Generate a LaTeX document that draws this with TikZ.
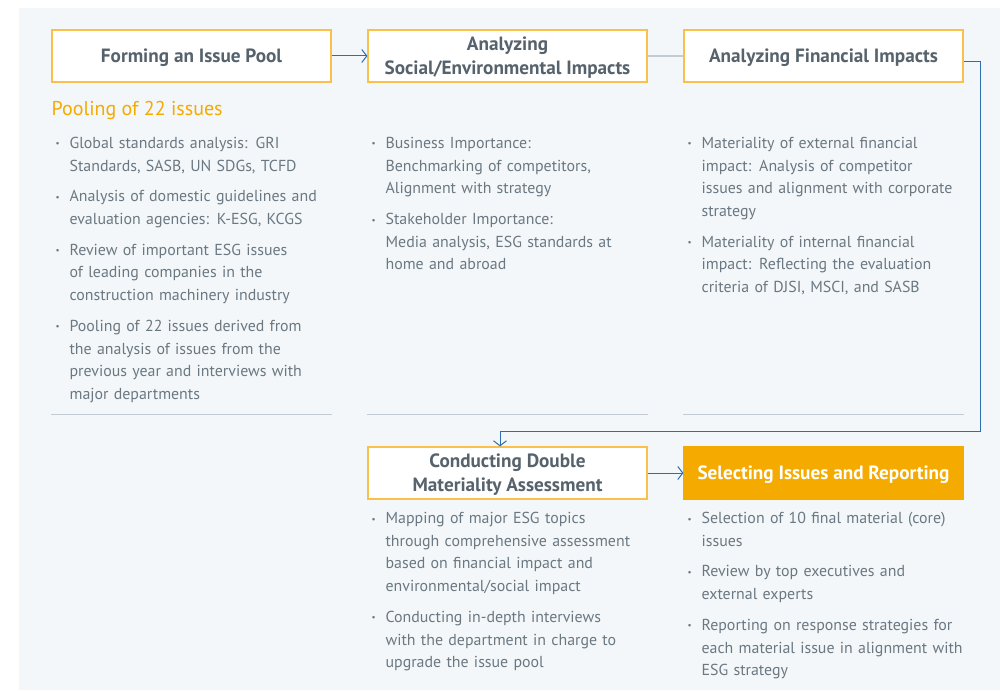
\documentclass[tikz,border=0pt]{standalone}
\usepackage{fontspec}
\setmainfont{PT Sans}
\usepackage{tikz}
\usetikzlibrary{positioning}
\usetikzlibrary{arrows.meta}
\definecolor{panel}{HTML}{F3F7F9}
\definecolor{boxline}{HTML}{FBC04A}
\definecolor{amber}{HTML}{F5AA00}
\definecolor{headgray}{HTML}{56626C}
\definecolor{bodygray}{HTML}{6B7882}
\definecolor{flowblue}{HTML}{2D6DB3}
\definecolor{linkgray}{HTML}{C3CCD3}
\tikzstyle{stage} = [draw=boxline, fill=white, line width=1.2pt,
    minimum width=279pt, minimum height=52pt, align=center, text depth=0pt,
    text=headgray, font=\fontsize{19.2}{24}\selectfont\bfseries]
\tikzstyle{final} = [stage, draw=amber, fill=amber, text=white]
\tikzstyle{notes} = [anchor=north west, inner sep=0pt, text width=300pt,
    align=left, text=bodygray, font=\fontsize{15.9}{22.7}\selectfont]
\tikzstyle{flow} = [draw=flowblue, line width=1pt, -{Straight Barb[length=5pt,width=13pt]}]
\tikzstyle{link} = [draw=linkgray, line width=1.5pt]
\tikzstyle{rule} = [draw=linkgray, line width=1.3pt]
\newcommand{\bpoint}[1]{\par\vspace{8pt}\hangindent=14pt\hangafter=1\noindent
    \makebox[14pt][l]{\raisebox{1.5pt}{\fontsize{9}{9}\selectfont\textbullet}}#1\par}

\begin{document}
\begin{tikzpicture}[x=1pt, y=-1pt, node distance=316pt]
    \useasboundingbox (0,0) rectangle (1000,690);
    \fill[panel] (19,8) rectangle (1000,690);

    % the five steps
    \node [stage] (pool) at (191.5,56) {Forming an Issue Pool};
    \node [stage, right of=pool] (social) {Analyzing\\Social/Environmental Impacts};
    \node [stage, right of=social] (financial) {Analyzing Financial Impacts};
    \node [stage, below of=social, node distance=417pt] (double) {Conducting Double\\Materiality Assessment};
    \node [final, right of=double] (select) {Selecting Issues and Reporting};

    % connectors
    \coordinate (turn) at (980,431);
    \draw [flow] (pool) -- (social);
    \draw [link] (social) -- (financial);
    \draw [flow] ([yshift=-6pt]financial.east) -| (turn) -| ([xshift=-7.5pt]double.north);
    \draw [flow] (double) -- (select);

    % rules under the upper columns
    \foreach \col in {pool, social, financial}
        \draw [rule] ([yshift=-332pt]\col.south west) -- ([yshift=-332pt]\col.south east);

    % texts
    \node [anchor=west, inner sep=0pt, text=amber, font=\fontsize{20}{24}\selectfont]
        (poolcount) at ([yshift=-28pt]pool.south west) {Pooling of 22 issues};
    \node [notes] (poolnotes) at ([shift={(4pt,-35pt)}]pool.south west) {%
        \bpoint{Global standards analysis: GRI\newline Standards, SASB, UN SDGs, TCFD}
        \bpoint{Analysis of domestic guidelines and\newline evaluation agencies: K-ESG, KCGS}
        \bpoint{Review of important ESG issues\newline of leading companies in the\newline construction machinery industry}
        \bpoint{Pooling of 22 issues derived from\newline the analysis of issues from the\newline previous year and interviews with\newline major departments}};
    \node [notes] (socialnotes) at ([shift={(4pt,-35pt)}]social.south west) {%
        \bpoint{Business Importance:\newline Benchmarking of competitors,\newline Alignment with strategy}
        \bpoint{Stakeholder Importance:\newline Media analysis, ESG standards at\newline home and abroad}};
    \node [notes] (financialnotes) at ([shift={(4pt,-35pt)}]financial.south west) {%
        \bpoint{Materiality of external financial\newline impact: Analysis of competitor\newline issues and alignment with corporate\newline strategy}
        \bpoint{Materiality of internal financial\newline impact: Reflecting the evaluation\newline criteria of DJSI, MSCI, and SASB}};
    \node [notes] (doublenotes) at ([shift={(4pt,7pt)}]double.south west) {%
        \bpoint{Mapping of major ESG topics\newline through comprehensive assessment\newline based on financial impact and\newline environmental/social impact}
        \bpoint{Conducting in-depth interviews\newline with the department in charge to\newline upgrade the issue pool}};
    \node [notes] (selectnotes) at ([shift={(4pt,7pt)}]select.south west) {%
        \bpoint{Selection of 10 final material (core)\newline issues}
        \bpoint{Review by top executives and\newline external experts}
        \bpoint{Reporting on response strategies for\newline each material issue in alignment with\newline ESG strategy}};
\end{tikzpicture}
\end{document}
